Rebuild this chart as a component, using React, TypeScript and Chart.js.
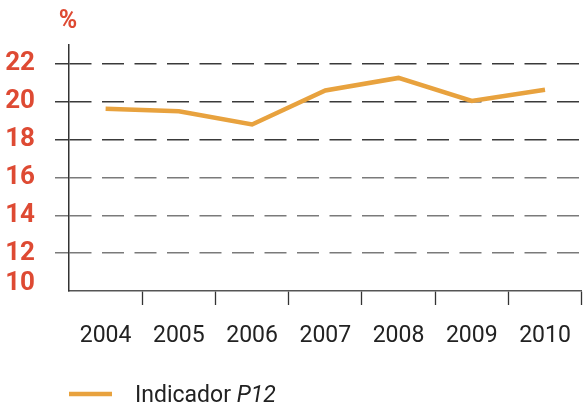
import React, { useEffect, useRef } from "react";
import { Chart, registerables } from "chart.js";

Chart.register(...registerables);

const years = ["2004", "2005", "2006", "2007", "2008", "2009", "2010"];
const indicadorP12 = [19.63, 19.5, 18.8, 20.6, 21.26, 20.04, 20.64];
const yTickValues = [10, 12, 14, 16, 18, 20, 22];
const unitLabel = "%";
const legendMain = "Indicador ";
const legendItalic = "P12";

const RED = "#DE4A33";
const ORANGE = "#E8A23E";
const FONT = "Roboto";

const overlayPlugin = {
  id: "overlay",
  afterDraw(chart: any) {
    const ctx = chart.ctx;
    const y = chart.scales.y;
    ctx.save();
    // lowest y label, raised above the x axis
    ctx.fillStyle = RED;
    ctx.font = `bold 26px ${FONT}`;
    ctx.textAlign = "right";
    ctx.textBaseline = "middle";
    ctx.fillText(String(yTickValues[0]), 35, y.getPixelForValue(yTickValues[0]) - 8);
    // unit label
    ctx.font = `bold 25px ${FONT}`;
    ctx.textAlign = "center";
    ctx.textBaseline = "alphabetic";
    ctx.fillText(unitLabel, 68, 28);
    // legend
    ctx.strokeStyle = ORANGE;
    ctx.lineWidth = 4.5;
    ctx.beginPath();
    ctx.moveTo(69, 394);
    ctx.lineTo(112, 394);
    ctx.stroke();
    ctx.fillStyle = "#222";
    ctx.textAlign = "left";
    ctx.font = `23px ${FONT}`;
    ctx.fillText(legendMain, 135, 402);
    const w = ctx.measureText(legendMain).width;
    ctx.font = `italic 23px ${FONT}`;
    ctx.fillText(legendItalic, 135 + w, 402);
    ctx.restore();
  },
};

export default function App() {
  const ref = useRef<HTMLCanvasElement | null>(null);
  useEffect(() => {
    document.body.style.margin = "0";
    const chart = new Chart(ref.current as HTMLCanvasElement, {
      type: "line",
      data: {
        labels: years,
        datasets: [
          {
            label: "Indicador P12",
            data: indicadorP12,
            borderColor: ORANGE,
            backgroundColor: ORANGE,
            borderWidth: 4.5,
            pointRadius: 0,
            tension: 0,
            borderCapStyle: "butt",
            borderJoinStyle: "miter",
          },
        ],
      },
      options: {
        animation: false,
        responsive: false,
        layout: { padding: { top: 45, left: 0, right: 2, bottom: 0 } },
        plugins: { legend: { display: false }, tooltip: { enabled: false } },
        scales: {
          x: {
            offset: true,
            grid: {
              offset: true,
              drawOnChartArea: false,
              tickLength: 14,
              tickWidth: 1.3,
              tickColor: (c: any) => (c.index === 0 ? "rgba(0,0,0,0)" : "#333"),
            },
            border: { display: true, color: "#555", width: 1.5 },
            ticks: {
              color: "#222",
              font: { family: FONT, size: 23 },
              padding: 17,
              maxRotation: 0,
              autoSkip: false,
            },
            afterFit: (s: any) => {
              s.height = 116;
            },
          },
          y: {
            min: 10,
            max: 23,
            afterBuildTicks: (s: any) => {
              s.ticks = yTickValues.map((v) => ({ value: v }));
            },
            grid: {
              color: (c: any) =>
                c.tick && c.tick.value === 10
                  ? "rgba(0,0,0,0)"
                  : c.tick && c.tick.value >= 18
                  ? "#3a3a3a"
                  : "#7a7a7a",
              lineWidth: 1.5,
              tickLength: 14,
              tickBorderDash: [],
            },
            border: { display: true, color: "#333", width: 1.5, dash: [22, 10.5] },
            ticks: {
              color: (c: any) => (c.tick && c.tick.value === 10 ? "rgba(0,0,0,0)" : RED),
              font: { family: FONT, size: 26, weight: "bold" },
              padding: 20,
            },
            afterFit: (s: any) => {
              s.width = 69;
            },
          },
        },
      },
      plugins: [overlayPlugin],
    } as any);
    return () => chart.destroy();
  }, []);
  return (
    <div style={{ width: 588, height: 407 }}>
      <canvas ref={ref} width={588} height={407} style={{ display: "block" }} />
    </div>
  );
}
